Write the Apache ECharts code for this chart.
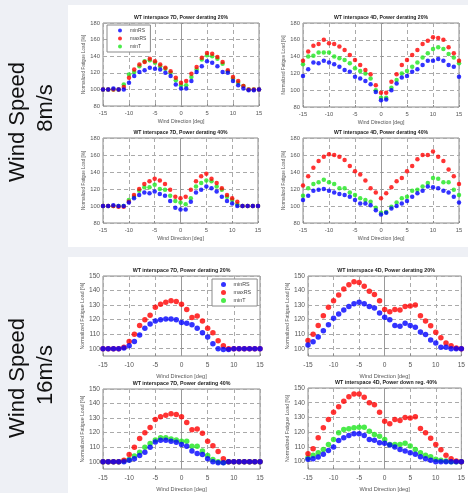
<!DOCTYPE html>
<html>
<head>
<meta charset="utf-8">
<script src="https://cdn.jsdelivr.net/npm/echarts@6/dist/echarts.min.js"></script>
<style>
html,body{margin:0;padding:0;background:#eef0f5;}
#c{width:468px;height:493px;}
</style>
</head>
<body>
<div id="c"></div>
<script>
// ---------- DATA ----------
const windDir = [-15,-14,-13,-12,-11,-10,-9,-8,-7,-6,-5,-4,-3,-2,-1,0,1,2,3,4,5,6,7,8,9,10,11,12,13,14,15];
const seriesNames = ['minRS','maxRS','minT'];
const titles = [
  'WT interspace 7D, Power derating 20%',
  'WT interspace 4D, Power derating 20%',
  'WT interspace 7D, Power derating 40%',
  'WT interspace 4D, Power derating 40%',
  'WT interspace 7D, Power derating 20%',
  'WT interspace 4D, Power derating 20%',
  'WT interspace 7D, Power derating 40%',
  'WT interspace 4D, Power down reg. 40%'
];
const rowLabels = [['Wind Speed','8m/s'],['Wind Speed','16m/s']];
const xTicks = [-15,-10,-5,0,5,10,15];
const yTicks8 = [80,100,120,140,160,180];
const yTicks16 = [100,110,120,130,140,150];

// 8 m/s, 7D, 20%
const s1_minRS = [100,100,101,100,100,108,116,121,123,126,125,124,120,116,106,101,101,110,121,128,134,132,128,121,120,110,105,101,99,99,100];
const s1_maxRS = [100,100,100,100,103,114,124,130,133,137,134,130,126,122,114,108,110,119,127,138,144,143,139,133,123,115,110,104,100,100,100];
const s1_minT  = [100,100,100,100,106,118,121,128,134,135,132,128,125,120,111,105,105,115,124,136,141,140,137,131,122,113,108,104,100,100,100];
// 8 m/s, 4D, 20%
const s2_minRS = [117,125,133,132,135,133,131,128,124,122,116,114,111,107,98,88,89,100,108,115,117,122,125,130,135,135,137,135,130,128,116];
const s2_maxRS = [135,146,153,155,160,156,155,152,148,142,136,130,124,119,106,97,97,110,119,130,136,142,148,155,159,163,162,160,151,144,135];
const s2_minT  = [131,140,141,145,145,145,140,138,136,132,126,123,120,114,100,91,91,103,112,120,123,128,133,139,144,149,151,149,143,139,132];
// 8 m/s, 7D, 40%
const s3_minRS = [100,100,101,100,100,104,109,113,116,115,117,114,112,106,98,96,96,105,116,119,123,121,117,111,106,103,100,100,100,100,100];
const s3_maxRS = [100,100,100,99,99,105,113,120,126,129,132,130,126,119,111,109,111,119,129,135,138,132,127,121,113,109,105,100,100,100,100];
const s3_minT  = [100,100,100,100,100,107,111,118,122,122,125,120,119,112,106,104,102,109,123,127,130,129,123,119,111,107,102,100,100,100,100];
// 8 m/s, 4D, 40%
const s4_minRS = [107,112,118,119,120,118,116,114,113,111,107,103,103,101,95,90,92,97,100,103,106,111,115,118,123,122,121,118,116,111,104];
const s4_maxRS = [124,135,145,153,158,161,160,158,154,147,141,137,130,121,116,109,115,122,129,133,141,147,155,160,160,164,158,153,143,135,126];
const s4_minT  = [112,121,126,128,131,128,126,121,121,116,113,109,107,105,98,92,93,99,104,109,111,118,119,123,127,133,132,128,128,119,113];
// 16 m/s, 7D, 20%
const s5_minRS = [100,100,100,100,100.5,102,105,109.5,114,117,119,120,120.5,120.5,120,118,117.5,116.5,114,111,108,103.5,100,99.5,99.5,100,100,100,100,100,100];
const s5_maxRS = [100,100,100,100,101,105,110,116,120,123,128.5,130.5,132,133,132.5,130.5,127,121.5,122.5,119,114,111,105.5,102,100,100,100,100,100,100,100];
const s5_minT  = [];
// 16 m/s, 4D, 20%
const s6_minRS = [102.5,104.8,108,112.4,116.5,121,123.8,126.7,129,131,132,131,129,128,124.6,121.7,120,116,115.4,117.6,116,114.7,111.5,109.7,106,104,101,101,100,100,100];
const s6_maxRS = [105.7,110,116,122.6,128.5,133,137,141,144,146,145.5,143,139.6,137.3,133,127,125.5,127,126.7,129,129.4,130,122.6,119,115.8,111.3,107.5,104,102,100.5,100];
const s6_minT  = [];
// 16 m/s, 7D, 40%
const s7_minRS = [100,100,100,100,100,101,102,104.3,106.6,110,113.6,114.8,114.8,114,113.4,111.8,110.7,107.3,105.7,105,102,100,99.3,99.3,100,100,100,100,100,100,100];
const s7_maxRS = [100,100,100,100,101,105,110,116,120,123.6,129,131,132,133,132.5,131,127,122,122.5,119.5,114,111,107,102,100,100,100,100,100,100,100];
const s7_minT  = [100,100,100,100,100.5,101.5,104,106.6,110,112.5,115,116.4,116.4,115.7,115,114,114,110.7,110.7,107.3,104.3,101.6,100,99.5,100,100,100,100,100,100,100];
// 16 m/s, 4D, down reg. 40%
const s8_minRS = [101.6,102,103.2,105,107.6,110,114.4,116.2,117.8,119,119,117.8,115,114.6,112.8,112.4,111.3,110,108.3,107.2,106,105,103.4,102,101,100,100,100,100,100,100];
const s8_maxRS = [105.4,108.8,116.2,123,128.6,133.6,137.2,141,144,146,146,143.7,140,138.7,133.6,127.5,125.7,128.6,128,130,129.7,130.4,122.5,119.6,115.8,111.7,108,104.3,102,100.5,100];
const s8_minT  = [102.7,104.3,106,108.3,111.7,115,119.6,121.8,122.3,123,123.4,123.4,120.7,118.5,117.3,115,111.7,111.7,111.7,112.4,110.6,108.3,106,104.3,103.4,101.6,101,100.5,100,100,100];

const allMinRS = [s1_minRS,s2_minRS,s3_minRS,s4_minRS,s5_minRS,s6_minRS,s7_minRS,s8_minRS];
const allMaxRS = [s1_maxRS,s2_maxRS,s3_maxRS,s4_maxRS,s5_maxRS,s6_maxRS,s7_maxRS,s8_maxRS];
const allMinT  = [s1_minT,s2_minT,s3_minT,s4_minT,s5_minT,s6_minT,s7_minT,s8_minT];

// ---------- LAYOUT ----------
const FONT = '"Liberation Sans", Arial, sans-serif';
const colors = {minRS:'#0000ff', maxRS:'#ff0000', minT:'#1ee61e'};
const boxes = [
  {l:103,t:23,w:156,h:83},
  {l:303,t:23,w:156,h:84},
  {l:103,t:138,w:155,h:85},
  {l:303,t:138,w:156,h:85},
  {l:103,t:276,w:157,h:80},
  {l:308,t:276,w:156,h:80},
  {l:103,t:389,w:157,h:80},
  {l:308,t:388,w:156,h:81}
];

const grid=[], xAxis=[], yAxis=[], series=[], graphic=[];

graphic.push({type:'rect',shape:{x:68,y:5,width:400,height:242},style:{fill:'#ffffff'},z:-10,silent:true});
graphic.push({type:'rect',shape:{x:68,y:257,width:400,height:236},style:{fill:'#ffffff'},z:-10,silent:true});

boxes.forEach((b,i)=>{
  const big = i>=4;
  grid.push({left:b.l, top:b.t, width:b.w, height:b.h, show:true, borderColor:'#8a8a8a', borderWidth:1, backgroundColor:'#fff', containLabel:false});
  const lblSize = big?6.6:5.8;
  xAxis.push({
    type:'value', gridIndex:i, min:-15, max:15, interval:5,
    name:'Wind Direction [deg]', nameLocation:'middle', nameGap: big?17:13,
    nameTextStyle:{fontFamily:FONT,fontSize:big?5.6:5.2,color:'#555'},
    axisLine:{show:false}, axisTick:{show:true,inside:true,length:2,lineStyle:{color:'#8a8a8a'}},
    axisLabel:{fontFamily:FONT,fontSize:lblSize,color:'#555',margin: big?6:4},
    splitLine:{show:true,lineStyle:{color:'#aaaaaa',type:[4,3],width:1}}
  });
  const yax = {
    type:'value', gridIndex:i,
    name:'Normalized Fatigue Load [%]', nameLocation:'middle', nameGap: big?18:15,
    nameTextStyle:{fontFamily:FONT,fontSize:big?5.2:4.6,color:'#555'},
    axisLine:{show:false}, axisTick:{show:true,inside:true,length:2,lineStyle:{color:'#8a8a8a'}},
    axisLabel:{fontFamily:FONT,fontSize:lblSize,color:'#555',margin:3},
    splitLine:{show:true,lineStyle:{color:'#aaaaaa',type:[4,3],width:1}}
  };
  if(big){
    yax.min=95; yax.max=150;
    yax.axisLabel.customValues = yTicks16;
    yax.axisTick.customValues = yTicks16;
  } else {
    yax.min=80; yax.max=180; yax.interval=20;
  }
  yAxis.push(yax);

  const sz = big?5.5:4.5;
  const mk = (name, arr, z, extra)=>Object.assign({
    name, type:'scatter', xAxisIndex:i, yAxisIndex:i, symbolSize:sz, z,
    itemStyle:{color:colors[name]}, silent:true, animation:false,
    data: arr.map((v,k)=>[windDir[k],v])
  }, extra||{});
  series.push(mk('minT', allMinT[i], 3));
  series.push(mk('maxRS', allMaxRS[i], 4));
  series.push(mk('minRS', allMinRS[i], 5, {
    markLine:{silent:true,symbol:'none',z:1,label:{show:false},
      lineStyle:{color:'#999',type:'solid',width:1},data:[{xAxis:0}], animation:false}
  }));

  graphic.push({type:'text', x:b.l+b.w/2, y:b.t-3,
    style:{text:titles[i], fontFamily:FONT, fontSize:big?5.3:5.1, fontWeight:'bold', fill:'#222', align:'center', verticalAlign:'bottom'}, silent:true});
});

// row labels
const rowCenters = [122, 378];
rowLabels.forEach((lines,r)=>{
  graphic.push({type:'text', x:18, y:rowCenters[r], rotation:Math.PI/2,
    style:{text:lines[0], fontFamily:FONT, fontSize:22, fill:'#111', align:'center', verticalAlign:'middle'}, silent:true});
  graphic.push({type:'text', x:46, y:rowCenters[r]-(r===0?14:3), rotation:Math.PI/2,
    style:{text:lines[1], fontFamily:FONT, fontSize:22, fill:'#111', align:'center', verticalAlign:'middle'}, silent:true});
});

const legendCommon = {
  orient:'vertical', data:seriesNames, icon:'circle',
  itemWidth:10, itemHeight:4, itemGap:3,
  textStyle:{fontFamily:FONT,fontSize:5,color:'#444',padding:[0,0,0,0]},
  backgroundColor:'#fff', borderColor:'#8a8a8a', borderWidth:1,
  selectedMode:false
};
const legend = [
  Object.assign({}, legendCommon, {left:107, top:25, padding:[3,4,3,11]}),
  Object.assign({}, legendCommon, {left:212, top:279, padding:[3,6,3,9], itemHeight:5, itemGap:3, textStyle:{fontFamily:FONT,fontSize:5.4,color:'#444'}})
];

const chart = echarts.init(document.getElementById('c'), null, {renderer:'canvas'});
chart.setOption({
  backgroundColor:'#eef0f5',
  animation:false,
  grid, xAxis, yAxis, series, legend, graphic
});
</script>
</body>
</html>
